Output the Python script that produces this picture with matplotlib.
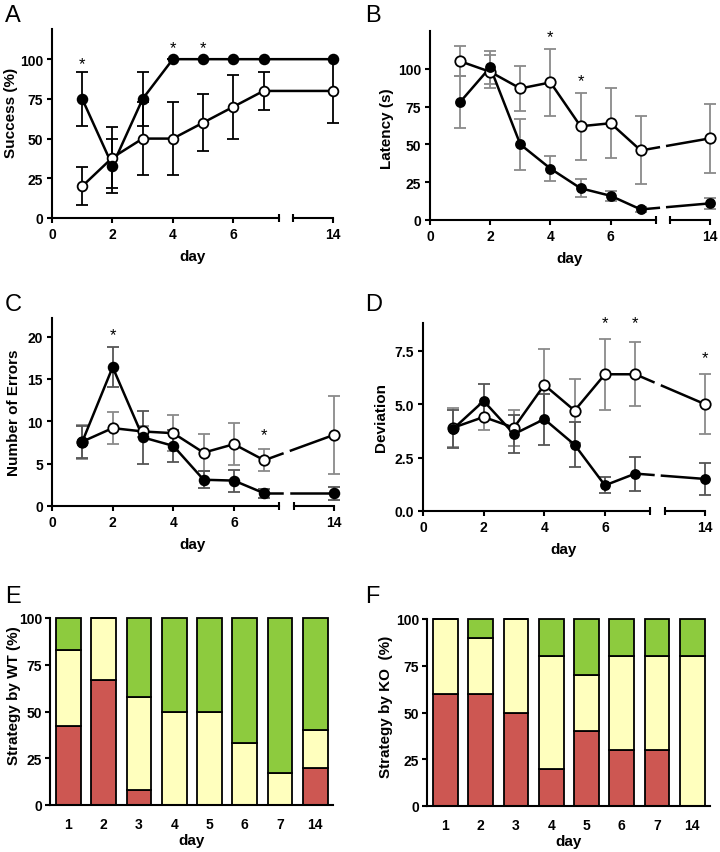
import matplotlib
matplotlib.use("Agg")
import matplotlib.pyplot as plt
import numpy as np

plt.rcParams["font.family"] = ["Liberation Sans", "DejaVu Sans"]

# --- donnees ---
days = [1, 2, 3, 4, 5, 6, 7, 14]
day_labels = ["1", "2", "3", "4", "5", "6", "7", "14"]

succ_filled = [75, 33, 75, 100, 100, 100, 100, 100]
succ_filled_err = [17, 17, 17, 0, 0, 0, 0, 0]
succ_open = [20, 38, 50, 50, 60, 70, 80, 80]
succ_open_err = [12, 19, 23, 23, 18, 20, 12, 20]
succ_stars = [(1, 97), (4, 107), (5, 107)]

lat_filled = [78, 101, 50, 34, 21, 16, 7, 11]
lat_filled_err = [17, 11, 17, 8.5, 6, 3.5, 1.5, 3.5]
lat_open = [105, 98, 87, 91, 62, 64, 46, 54]
lat_open_err = [10, 11, 15, 22, 22, 23, 22.5, 23]
lat_stars = [(4, 121), (5, 92)]

errs_filled = [7.6, 16.4, 8.1, 7.1, 3.1, 3.0, 1.5, 1.5]
errs_filled_err = [1.9, 2.4, 3.1, 1.9, 1.0, 1.3, 0.5, 0.8]
errs_open = [7.6, 9.2, 8.8, 8.6, 6.3, 7.3, 5.4, 8.4]
errs_open_err = [2.0, 1.9, 0.6, 2.1, 2.2, 2.5, 1.3, 4.6]
errs_stars = [(2, 20.2), (7, 8.4)]

dev_filled = [3.85, 5.15, 3.6, 4.3, 3.1, 1.2, 1.75, 1.5]
dev_filled_err = [0.9, 0.8, 0.9, 1.2, 1.05, 0.38, 0.8, 0.75]
dev_open = [3.9, 4.4, 3.9, 5.9, 4.7, 6.4, 6.4, 5.0]
dev_open_err = [0.9, 0.6, 0.85, 1.7, 1.5, 1.65, 1.5, 1.4]
dev_stars = [(6, 8.8), (7, 8.8), (14, 7.2)]

wt_red = [42, 67, 8, 0, 0, 0, 0, 20]
wt_yellow = [41, 33, 50, 50, 50, 33, 17, 20]
wt_green = [17, 0, 42, 50, 50, 67, 83, 60]

ko_red = [60, 60, 50, 20, 40, 30, 30, 0]
ko_yellow = [40, 30, 50, 60, 30, 50, 50, 80]
ko_green = [0, 10, 0, 20, 30, 20, 20, 20]

ROUGE = "#cd5752"
JAUNE = "#ffffbe"
VERT = "#8dcb3e"

POS_14 = 9.3
BREAK = (7.5, 7.97)
GAP = (7.6, 7.88)

W, H = 720, 853


def xpos(d):
    return POS_14 if d == 14 else d


def axe_px(fig, left, top, right, bottom):
    return fig.add_axes([left / W, 1 - bottom / H, (right - left) / W, (bottom - top) / H])


def style_ligne(ax, ymax, yticks, ylabel, lab_xy, yfmt=None):
    ax.set_xlim(0, POS_14)
    ax.set_ylim(0, ymax)
    for s in ["top", "right", "bottom"]:
        ax.spines[s].set_visible(False)
    ax.spines["left"].set_linewidth(1.5)
    ax.plot([0, BREAK[0]], [0, 0], color="black", lw=1.5, clip_on=False)
    ax.plot([BREAK[1], POS_14], [0, 0], color="black", lw=1.5, clip_on=False)
    ax.plot(list(BREAK), [0, 0], ls="none", marker="|", ms=6, mew=1.5, color="black", clip_on=False)
    ax.set_xticks([0, 2, 4, 6, POS_14])
    ax.set_xticklabels(["0", "2", "4", "6", "14"])
    ax.set_yticks(yticks)
    if yfmt:
        ax.set_yticklabels([yfmt % v for v in yticks])
    ax.tick_params(direction="out", length=3.5, width=1.5, pad=3, labelsize=10)
    for t in ax.get_xticklabels() + ax.get_yticklabels():
        t.set_fontweight("bold")
    ax.set_ylabel(ylabel, fontsize=11, fontweight="bold")
    ax.yaxis.set_label_coords(*lab_xy)
    ax.set_xlabel("day", fontsize=11, fontweight="bold")
    ax.xaxis.set_label_coords(0.5, -0.165)


def tracer_serie(ax, y, e, ouvert, ecol, coupe, ms):
    x = [xpos(d) for d in days]
    ax.errorbar(x, y, yerr=e, fmt="none", ecolor=ecol, elinewidth=1.3, capsize=4, capthick=1.3,
                zorder=2, clip_on=False)
    mfc = "white" if ouvert else "black"
    if coupe:
        ax.plot(x[:-1], y[:-1], color="black", lw=1.8, zorder=3)
        y_gap = np.interp(GAP, [x[-2], x[-1]], [y[-2], y[-1]])
        ax.plot([x[-2], GAP[0]], [y[-2], y_gap[0]], color="black", lw=1.8, zorder=3)
        ax.plot([GAP[1], x[-1]], [y_gap[1], y[-1]], color="black", lw=1.8, zorder=3)
    else:
        ax.plot(x, y, color="black", lw=1.8, zorder=3)
    ax.plot(x, y, ls="none", marker="o", ms=ms, mfc=mfc, mec="black", mew=1.3, zorder=4,
            clip_on=False)


def etoiles(ax, stars):
    for d, v in stars:
        ax.text(xpos(d), v, "*", ha="center", va="center", fontsize=12, clip_on=False)


def barres(ax, rouge, jaune, vert, ylabel, lab_xy):
    x = np.arange(1, len(days) + 1)
    r = np.array(rouge)
    j = np.array(jaune)
    v = np.array(vert)
    kw = dict(width=0.7, edgecolor="black", linewidth=1.3)
    ax.bar(x, r, color=ROUGE, **kw)
    ax.bar(x, j, bottom=r, color=JAUNE, **kw)
    ax.bar(x, v, bottom=r + j, color=VERT, **kw)
    ax.set_xlim(0.48, 8.5)
    ax.set_ylim(0, 100)
    for s in ["top", "right"]:
        ax.spines[s].set_visible(False)
    ax.spines["left"].set_linewidth(1.5)
    ax.spines["bottom"].set_linewidth(1.5)
    ax.set_xticks(x)
    ax.set_xticklabels(day_labels)
    ax.set_yticks([0, 25, 50, 75, 100])
    ax.tick_params(axis="y", direction="out", length=3.5, width=1.5, pad=2, labelsize=10)
    ax.tick_params(axis="x", length=0, pad=9, labelsize=10)
    for t in ax.get_xticklabels() + ax.get_yticklabels():
        t.set_fontweight("bold")
    for p in ax.patches:
        p.set_clip_on(False)
    ax.set_ylabel(ylabel, fontsize=11, fontweight="bold")
    ax.yaxis.set_label_coords(*lab_xy)
    ax.set_xlabel("day", fontsize=11, fontweight="bold")
    ax.xaxis.set_label_coords(0.5, -0.15)


fig = plt.figure(figsize=(7.2, 8.53), dpi=100)

# A
ax_a = axe_px(fig, 52, 30, 333, 219)
style_ligne(ax_a, 119, [0, 25, 50, 75, 100], "Success (%)", (-0.121, 0.56))
tracer_serie(ax_a, succ_open, succ_open_err, True, "black", False, 7)
tracer_serie(ax_a, succ_filled, succ_filled_err, False, "black", False, 7)
etoiles(ax_a, succ_stars)

# B
ax_b = axe_px(fig, 430, 32, 710, 221)
style_ligne(ax_b, 125, [0, 25, 50, 75, 100], "Latency (s)", (-0.129, 0.49))
tracer_serie(ax_b, lat_open, lat_open_err, True, "#8a8a8a", True, 7.5)
tracer_serie(ax_b, lat_filled, lat_filled_err, False, "#8a8a8a", True, 6.5)
etoiles(ax_b, lat_stars)

# C
ax_c = axe_px(fig, 52, 319, 334, 507)
style_ligne(ax_c, 22.2, [0, 5, 10, 15, 20], "Number of Errors", (-0.11, 0.5))
tracer_serie(ax_c, errs_open, errs_open_err, True, "#8a8a8a", True, 7.5)
tracer_serie(ax_c, errs_filled, errs_filled_err, False, "#555555", True, 7)
etoiles(ax_c, errs_stars)

# D
ax_d = axe_px(fig, 423, 324, 705, 512)
style_ligne(ax_d, 8.8, [0, 2.5, 5.0, 7.5], "Deviation", (-0.124, 0.5), "%.1f")
tracer_serie(ax_d, dev_open, dev_open_err, True, "#8a8a8a", True, 7.5)
tracer_serie(ax_d, dev_filled, dev_filled_err, False, "#555555", True, 6.5)
etoiles(ax_d, dev_stars)

# E
ax_e = axe_px(fig, 50, 619, 333, 806)
barres(ax_e, wt_red, wt_yellow, wt_green, "Strategy by WT (%)", (-0.102, 0.59))

# F
ax_f = axe_px(fig, 427, 620, 710, 807)
barres(ax_f, ko_red, ko_yellow, ko_green, "Strategy by KO  (%)", (-0.12, 0.535))

for lettre, x, y in [("A", 5, 22), ("B", 365, 22), ("C", 5, 311), ("D", 365, 311),
                     ("E", 5, 603), ("F", 365, 603)]:
    fig.text(x / W, 1 - y / H, lettre, fontsize=17, va="baseline", ha="left")

fig.savefig("out.png", dpi=100)
